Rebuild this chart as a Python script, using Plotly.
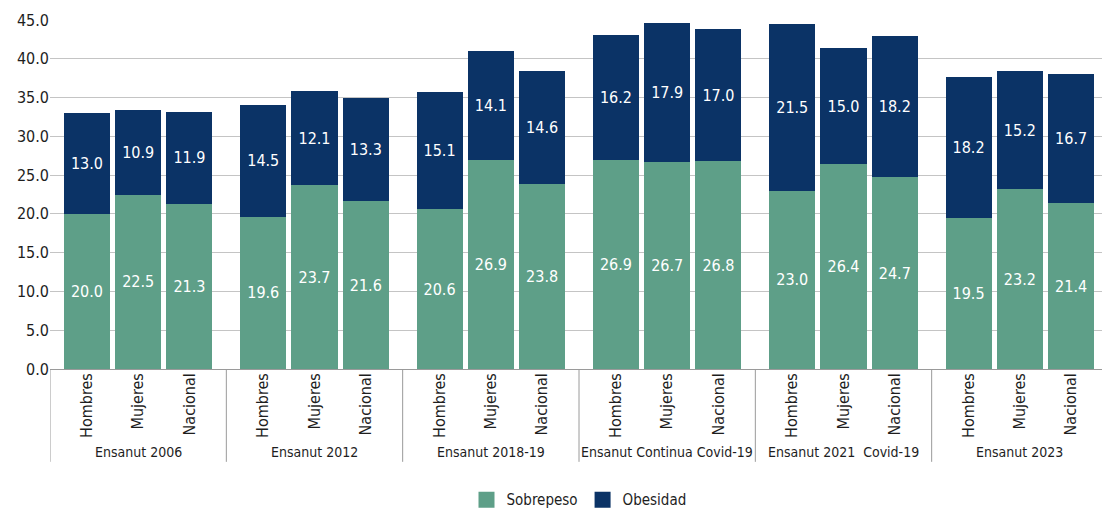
import plotly.graph_objects as go

groups = ["Ensanut 2006", "Ensanut 2012", "Ensanut 2018-19",
          "Ensanut Continua Covid-19", "Ensanut 2021  Covid-19", "Ensanut 2023"]
subcats = ["Hombres", "Mujeres", "Nacional"]
sobrepeso = [20.0, 22.5, 21.3, 19.6, 23.7, 21.6, 20.6, 26.9, 23.8,
             26.9, 26.7, 26.8, 23.0, 26.4, 24.7, 19.5, 23.2, 21.4]
obesidad = [13.0, 10.9, 11.9, 14.5, 12.1, 13.3, 15.1, 14.1, 14.6,
            16.2, 17.9, 17.0, 21.5, 15.0, 18.2, 18.2, 15.2, 16.7]
y_ticks = [0, 5, 10, 15, 20, 25, 30, 35, 40, 45]

GW = 3.44
OFF = 0.72
xs = []
labels = []
for g in range(len(groups)):
    for i, s in enumerate(subcats):
        xs.append(g * GW + OFF + i)
        labels.append(s)

FONT = "DejaVu Sans Condensed, Liberation Sans Narrow, sans-serif"
GREEN = "#5e9f88"
NAVY = "#0b3366"
TXT = "#1e1e1e"

fig = go.Figure()
fig.add_trace(go.Bar(x=xs, y=sobrepeso, name="Sobrepeso", marker_color=GREEN,
                     width=0.9, text=[f"{v:.1f}" for v in sobrepeso],
                     textposition="inside", insidetextanchor="middle",
                     textfont=dict(color="white", size=16, family=FONT),
                     marker_line_width=0, showlegend=False))
fig.add_trace(go.Bar(x=xs, y=obesidad, name="Obesidad", marker_color=NAVY,
                     width=0.9, text=[f"{v:.1f}" for v in obesidad],
                     textposition="inside", insidetextanchor="middle",
                     textfont=dict(color="white", size=16, family=FONT),
                     marker_line_width=0, showlegend=False))
# legend entries with larger square swatches
fig.add_trace(go.Scatter(x=[None], y=[None], mode="markers", name="Sobrepeso",
                         marker=dict(symbol="square", size=20, color=GREEN)))
fig.add_trace(go.Scatter(x=[None], y=[None], mode="markers", name="Obesidad",
                         marker=dict(symbol="square", size=20, color=NAVY)))

shapes = []
for g in range(len(groups)):
    shapes.append(dict(type="line", xref="x", yref="paper", x0=g * GW, x1=g * GW,
                       y0=0, y1=-0.266, line=dict(color="#9a9a9a", width=1)))
annotations = []
for g, name in enumerate(groups):
    annotations.append(dict(x=g * GW + GW / 2, y=-0.238, xref="x", yref="paper",
                            xanchor="center", yanchor="middle",
                            text=name, showarrow=False,
                            font=dict(size=14, family=FONT, color=TXT)))

fig.update_layout(
    barmode="stack",
    width=1110, height=514,
    margin=dict(l=42, r=10, t=12, b=153, autoexpand=False),
    paper_bgcolor="white", plot_bgcolor="white",
    font=dict(family=FONT, size=15, color=TXT),
    shapes=shapes, annotations=annotations,
    uniformtext=dict(minsize=10, mode="show"),
    legend=dict(orientation="h", x=0.5, xanchor="center", y=-0.375, yanchor="middle",
                font=dict(size=15, family=FONT, color=TXT),
                traceorder="normal", itemsizing="trace"),
    showlegend=True,
)
fig.update_xaxes(range=[0, GW * len(groups)], tickvals=xs, ticktext=labels,
                 tickangle=-90, showgrid=False, zeroline=False, showline=False,
                 ticks="", automargin=False,
                 tickfont=dict(size=16, family=FONT, color=TXT))
fig.update_yaxes(range=[0, 45], tickvals=y_ticks, tickformat=".1f",
                 showgrid=True, gridcolor="#c4c4c4", gridwidth=1,
                 zeroline=True, zerolinecolor="#9a9a9a", zerolinewidth=1,
                 showline=False, ticks="", ticklen=0, automargin=False,
                 tickfont=dict(size=16, family=FONT, color=TXT))

fig.write_html("out.html")
